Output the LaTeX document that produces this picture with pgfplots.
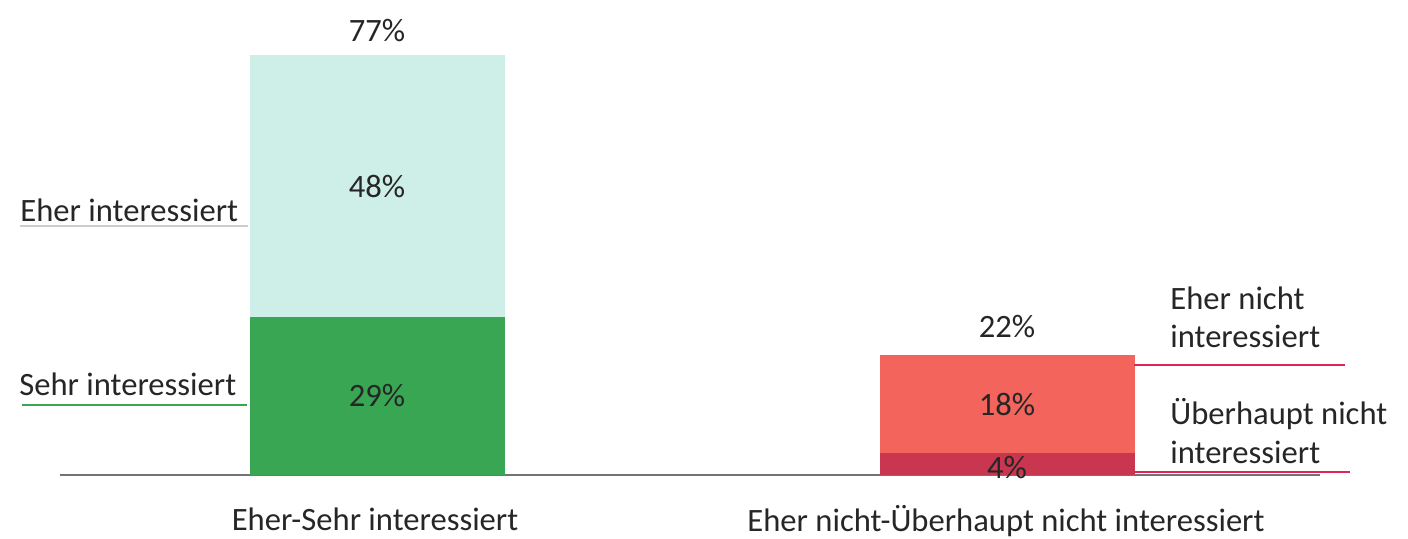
\documentclass[border=0pt]{standalone}
\usepackage{pgfplots}
\pgfplotsset{compat=1.18}
\usepackage{fontspec}
\setmainfont{Carlito}
\definecolor{dgreen}{HTML}{38A653}
\definecolor{lmint}{HTML}{CDEFE8}
\definecolor{salmon}{HTML}{F2645C}
\definecolor{crimson}{HTML}{C8364F}
\definecolor{redline}{HTML}{E2245A}
\definecolor{txt}{HTML}{262626}
\begin{document}
\begin{tikzpicture}[font=\fontsize{16.3}{19.5}\selectfont, text=txt]
\begin{axis}[
  x=0.5pt, y=2.725pt,
  xmin=60, xmax=1320, ymin=0, ymax=87,
  ybar stacked, bar width=255,
  hide y axis,
  axis x line=bottom,
  x axis line style={-, draw=black!55, line width=0.8pt},
  xtick=\empty,
  clip=false,
  every axis plot/.append style={draw=none},
  after end axis/.code={
    \node at (axis cs:377,81.6) {77\%};
    \node at (axis cs:377,53) {48\%};
    \node at (axis cs:377,14.5) {29\%};
    \node at (axis cs:1007,27.2) {22\%};
    \node at (axis cs:1007,13) {18\%};
    \node at (axis cs:1007,1.4) {4\%};
    \node at (axis cs:375,-8.2) {Eher-Sehr interessiert};
    \node at (axis cs:1006,-8.5) {Eher nicht-Überhaupt nicht interessiert};
    \node[anchor=west, inner sep=0pt] at (axis cs:20,48.6) {Eher interessiert};
    \draw[black!20, line width=0.6pt] (axis cs:20,45.7) -- (axis cs:248,45.7);
    \node[anchor=west, inner sep=0pt] at (axis cs:19,16.7) {Sehr interessiert};
    \draw[dgreen, line width=0.8pt] (axis cs:22,12.8) -- (axis cs:247,12.8);
    \node[anchor=west, inner sep=0pt] at (axis cs:1170,32.5) {Eher nicht};
    \node[anchor=west, inner sep=0pt] at (axis cs:1170,25.5) {interessiert};
    \draw[redline, line width=0.8pt] (axis cs:1134,20.2) -- (axis cs:1345,20.2);
    \node[anchor=west, inner sep=0pt] at (axis cs:1170,11.2) {Überhaupt nicht};
    \node[anchor=west, inner sep=0pt] at (axis cs:1170,4.2) {interessiert};
    \draw[redline, line width=0.8pt] (axis cs:1134,0.6) -- (axis cs:1350,0.6);
  },
]
\addplot[fill=dgreen] coordinates {(377,29) (1007,0)};
\addplot[fill=crimson] coordinates {(377,0) (1007,4)};
\addplot[fill=lmint] coordinates {(377,48) (1007,0)};
\addplot[fill=salmon] coordinates {(377,0) (1007,18)};
\end{axis}
\pgfresetboundingbox
\path[use as bounding box] (-30pt,-32pt) rectangle (674pt,237.5pt);
\end{tikzpicture}
\end{document}
